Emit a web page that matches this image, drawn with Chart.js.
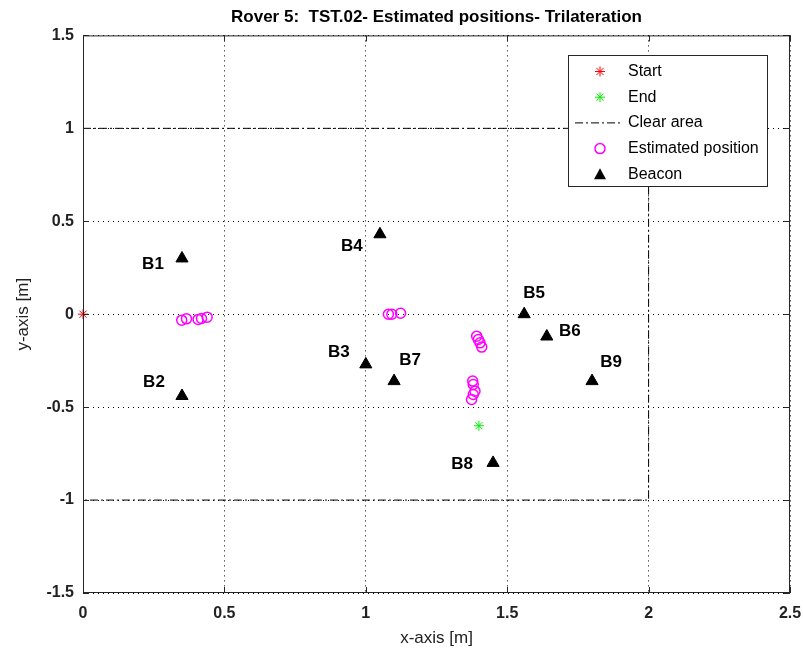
<!DOCTYPE html>
<html>
<head>
<meta charset="utf-8">
<script src="https://cdn.jsdelivr.net/npm/chart.js@4"></script>
<style>
  html, body { margin: 0; padding: 0; background: #fff; }
  #wrap { width: 803px; height: 653px; }
</style>
</head>
<body>
<div id="wrap"><canvas id="plot" width="803" height="653"></canvas></div>
<script>
/* ---------- data ---------- */
const startPos = [{ x: 0, y: 0 }];
const endPos   = [{ x: 1.40, y: -0.60 }];

// clear area: dash-dot rectangle
const clearX = [0, 2, 2, 0];
const clearY = [1, 1, -1, -1];

// estimated positions (trilateration)
const estX = [0.349, 0.366, 0.407, 0.419, 0.439,
              1.080, 1.092, 1.123,
              1.392, 1.398, 1.404, 1.410,
              1.378, 1.380, 1.386, 1.380, 1.374];
const estY = [-0.032, -0.025, -0.028, -0.023, -0.016,
              0.000, 0.000, 0.005,
              -0.118, -0.136, -0.154, -0.177,
              -0.360, -0.378, -0.414, -0.432, -0.459];

// beacons
const beaconNames = ['B1', 'B2', 'B3', 'B4', 'B5', 'B6', 'B7', 'B8', 'B9'];
const beaconX = [0.35, 0.35, 1.00, 1.05, 1.56, 1.64, 1.10, 1.45, 1.80];
const beaconY = [0.30, -0.44, -0.27, 0.43, 0.00, -0.12, -0.36, -0.80, -0.36];

const xTicks = [0, 0.5, 1, 1.5, 2, 2.5];
const yTicks = [-1.5, -1, -0.5, 0, 0.5, 1, 1.5];

/* ---------- helpers ---------- */
const pts = (xs, ys) => xs.map((x, i) => ({ x, y: ys[i] }));

// pixel offsets of the beacon names relative to the marker
const labelOffset = {
  B1: [-29, 6], B2: [-28, -14], B3: [-27, -12], B4: [-28, 12], B5: [10, -21],
  B6: [23, -5], B7: [16, -21], B8: [-31, 1], B9: [19, -19]
};

const DASHDOT = [8, 3, 2, 3];
const FONT = '"Liberation Sans", Arial, sans-serif';

/* ---------- plugins ---------- */
const frame = {
  id: 'frame',
  afterDatasetsDraw(chart) {
    const { ctx, chartArea: a, scales } = chart;
    ctx.save();
    // beacon labels
    ctx.font = 'bold 17px ' + FONT;
    ctx.fillStyle = '#000';
    ctx.textAlign = 'center';
    ctx.textBaseline = 'middle';
    beaconNames.forEach((n, i) => {
      const px = scales.x.getPixelForValue(beaconX[i]);
      const py = scales.y.getPixelForValue(beaconY[i]);
      const o = labelOffset[n];
      ctx.fillText(n, px + o[0], py + o[1]);
    });
    // box + inward ticks
    ctx.strokeStyle = '#262626';
    ctx.lineWidth = 1;
    ctx.setLineDash([]);
    ctx.strokeRect(a.left + 0.5, a.top + 0.5, a.width - 1, a.height - 1);
    ctx.beginPath();
    xTicks.forEach(v => {
      const px = Math.round(scales.x.getPixelForValue(v)) + 0.5;
      ctx.moveTo(px, a.bottom); ctx.lineTo(px, a.bottom - 6);
      ctx.moveTo(px, a.top); ctx.lineTo(px, a.top + 6);
    });
    yTicks.forEach(v => {
      const py = Math.round(scales.y.getPixelForValue(v)) + 0.5;
      ctx.moveTo(a.left, py); ctx.lineTo(a.left + 6, py);
      ctx.moveTo(a.right, py); ctx.lineTo(a.right - 6, py);
    });
    ctx.stroke();

    // legend
    const L = { x: 568, y: 55, w: 199, h: 131 };
    ctx.fillStyle = '#fff';
    ctx.fillRect(L.x, L.y, L.w, L.h);
    ctx.strokeStyle = '#262626';
    ctx.strokeRect(L.x + 0.5, L.y + 0.5, L.w, L.h);
    const rows = ['Start', 'End', 'Clear area', 'Estimated position', 'Beacon'];
    const mx = 600;
    ctx.font = '16px ' + FONT;
    ctx.textAlign = 'left';
    rows.forEach((t, i) => {
      const ry = 71.5 + i * 25.7;
      ctx.fillStyle = '#000';
      ctx.fillText(t, 628, ry);
      ctx.save();
      if (i < 2) {
        ctx.strokeStyle = i === 0 ? '#ff0000' : '#00ee00';
        ctx.lineWidth = 1;
        ctx.beginPath();
        for (let k = 0; k < 4; k++) {
          const ang = k * Math.PI / 4;
          ctx.moveTo(mx - 5 * Math.cos(ang), ry - 5 * Math.sin(ang));
          ctx.lineTo(mx + 5 * Math.cos(ang), ry + 5 * Math.sin(ang));
        }
        ctx.stroke();
      } else if (i === 2) {
        ctx.strokeStyle = '#000';
        ctx.setLineDash(DASHDOT);
        ctx.beginPath();
        ctx.moveTo(575, ry); ctx.lineTo(622, ry);
        ctx.stroke();
      } else if (i === 3) {
        ctx.strokeStyle = '#ff00ff';
        ctx.lineWidth = 1.5;
        ctx.beginPath();
        ctx.arc(mx, ry, 5, 0, Math.PI * 2);
        ctx.stroke();
      } else {
        ctx.fillStyle = '#000';
        ctx.beginPath();
        ctx.moveTo(mx, ry - 6);
        ctx.lineTo(mx + 6, ry + 5);
        ctx.lineTo(mx - 6, ry + 5);
        ctx.closePath();
        ctx.fill();
      }
      ctx.restore();
    });
    ctx.restore();
  }
};

/* ---------- chart ---------- */
const tickFont = { family: FONT, size: 16, weight: 'bold' };
const titleFont = { family: FONT, size: 17 };
const fmt = v => String(v);

new Chart(document.getElementById('plot'), {
  type: 'scatter',
  data: {
    datasets: [
      {
        label: 'Start', data: startPos, pointStyle: 'star', radius: 5,
        borderColor: '#ff0000', borderWidth: 1, clip: false
      },
      {
        label: 'End', data: endPos, pointStyle: 'star', radius: 5,
        borderColor: '#00ee00', borderWidth: 1
      },
      {
        label: 'Clear area', type: 'line', data: pts(clearX, clearY), showLine: true,
        borderColor: '#000', borderWidth: 1, borderDash: DASHDOT, pointRadius: 0,
        fill: false, tension: 0, clip: false
      },
      {
        label: 'Estimated position', data: pts(estX, estY), pointStyle: 'circle', radius: 5,
        borderColor: '#ff00ff', backgroundColor: 'rgba(0,0,0,0)', borderWidth: 1.5
      },
      {
        label: 'Beacon', data: pts(beaconX, beaconY), pointStyle: 'triangle', radius: 7,
        borderColor: '#000', backgroundColor: '#000', borderWidth: 1
      }
    ]
  },
  options: {
    responsive: false,
    animation: false,
    layout: { padding: { left: 0, right: 13, top: 0, bottom: 0 } },
    plugins: {
      legend: { display: false },
      tooltip: { enabled: false },
      title: {
        display: true,
        fullSize: false,
        text: 'Rover 5:  TST.02- Estimated positions- Trilateration',
        color: '#000',
        font: { family: FONT, size: 17, weight: 'bold' },
        padding: { top: 7, bottom: 8 }
      }
    },
    scales: {
      x: {
        type: 'linear', min: 0, max: 2.5,
        afterBuildTicks: s => { s.ticks = xTicks.map(v => ({ value: v })); },
        afterFit: s => { s.height = 60; s.paddingLeft = 0; s.paddingRight = 0; },
        ticks: { color: '#222', font: tickFont, padding: 11, maxRotation: 0, callback: fmt },
        grid: { color: '#000', lineWidth: 1, drawTicks: false },
        border: { display: false, dash: [1, 4] },
        title: { display: true, text: 'x-axis [m]', color: '#222', font: titleFont, padding: { top: 2 } }
      },
      y: {
        type: 'linear', min: -1.5, max: 1.5,
        afterBuildTicks: s => { s.ticks = yTicks.map(v => ({ value: v })); },
        afterFit: s => { s.width = 83; s.paddingTop = 0; s.paddingBottom = 0; },
        ticks: { color: '#222', font: tickFont, padding: 9, callback: fmt },
        grid: { color: '#000', lineWidth: 1, drawTicks: false },
        border: { display: false, dash: [1, 4] },
        title: { display: true, text: 'y-axis [m]', color: '#222', font: titleFont, padding: { top: 13, bottom: 4 } }
      }
    }
  },
  plugins: [frame]
});
</script>
</body>
</html>
